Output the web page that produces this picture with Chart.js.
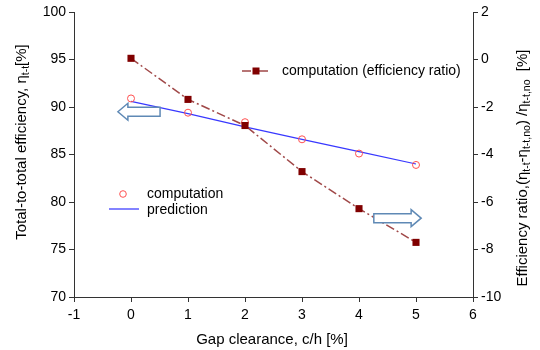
<!DOCTYPE html>
<html>
<head>
<meta charset="utf-8">
<script src="https://cdn.jsdelivr.net/npm/chart.js@4"></script>
<style>
  html, body { margin: 0; padding: 0; background: #fff; }
  #wrap { width: 540px; height: 350px; }
</style>
</head>
<body>
<div id="wrap"><canvas id="chart" width="540" height="350"></canvas></div>
<script>
// data
const gapClearance = [0, 1, 2, 3, 4, 5];
const effComputation = [90.9, 89.4, 88.4, 86.6, 85.1, 83.9];
const effPrediction = [90.6, 89.3, 87.9, 86.6, 85.3, 84.0];
const ratioComputation = [0.05, -1.68, -2.78, -4.72, -6.28, -7.7];

const xTicks = [-1, 0, 1, 2, 3, 4, 5, 6];
const leftTicks = [70, 75, 80, 85, 90, 95, 100];
const rightTicks = [-10, -8, -6, -4, -2, 0, 2];

const FONT = '"Liberation Sans", Arial, sans-serif';
const ctx = document.getElementById("chart");

function pts(xs, ys) {
    return xs.map((x, i) => ({x: x, y: ys[i]}));
}

// text with subscripts, parts = [[text, isSub], ...]
function drawRich(c, parts, cx, cy, rot, size) {
    c.save();
    c.translate(cx, cy);
    c.rotate(rot);
    c.textBaseline = 'middle';
    c.fillStyle = '#000';
    let w = 0;
    for (const p of parts) {
        c.font = (p[1] ? size * 0.7 : size) + 'px ' + FONT;
        w += c.measureText(p[0]).width;
    }
    let x = -w / 2;
    for (const p of parts) {
        c.font = (p[1] ? size * 0.7 : size) + 'px ' + FONT;
        c.textAlign = 'left';
        c.fillText(p[0], x, p[1] ? size * 0.3 : 0);
        x += c.measureText(p[0]).width;
    }
    c.restore();
}

function blockArrow(c, tipX, tailX, cy, bodyH, headH, headL) {
    const dir = tailX > tipX ? 1 : -1;
    const baseX = tipX + dir * headL;
    c.beginPath();
    c.moveTo(tipX, cy);
    c.lineTo(baseX, cy - headH / 2);
    c.lineTo(baseX, cy - bodyH / 2);
    c.lineTo(tailX, cy - bodyH / 2);
    c.lineTo(tailX, cy + bodyH / 2);
    c.lineTo(baseX, cy + bodyH / 2);
    c.lineTo(baseX, cy + headH / 2);
    c.closePath();
    c.fillStyle = '#fff';
    c.fill();
    c.strokeStyle = '#5f89b5';
    c.lineWidth = 1.5;
    c.stroke();
}

const decorPlugin = {
    id: 'decor',
    afterDraw(chart) {
        const c = chart.ctx;
        const sx = chart.scales.x, sy = chart.scales.y;

        // axis titles
        drawRich(c, [['Total-to-total efficiency, η', false], ['t-t', true], ['[%]', false]],
            22, 142, -Math.PI / 2, 15);
        drawRich(c, [['Efficiency ratio,(η', false], ['t-t', true], ['-η', false], ['t-t,no', true],
            [') /η', false], ['t-t,no', true], ['  [%]', false]],
            523, 168, -Math.PI / 2, 15);
        drawRich(c, [['Gap clearance, c/h [%]', false]], 272, 340, 0, 15);

        // arrows pointing to the axes
        blockArrow(c, sx.getPixelForValue(-0.23), sx.getPixelForValue(0.51),
            sy.getPixelForValue(89.5), 9, 17, 10);
        blockArrow(c, sx.getPixelForValue(5.09), sx.getPixelForValue(4.26),
            sy.getPixelForValue(78.3), 9, 17, 10);

        // legends
        c.save();
        c.font = '14px ' + FONT;
        c.textBaseline = 'middle';
        c.textAlign = 'left';

        c.strokeStyle = '#a04848';
        c.lineWidth = 1.5;
        c.setLineDash([9, 3, 2, 3]);
        c.beginPath(); c.moveTo(242, 71); c.lineTo(271, 71); c.stroke();
        c.setLineDash([]);
        c.fillStyle = '#800000';
        c.fillRect(252.5, 67.5, 7, 7);
        c.fillStyle = '#000';
        c.fillText('computation (efficiency ratio)', 282, 71);

        c.strokeStyle = '#ff5050';
        c.lineWidth = 1;
        c.beginPath(); c.arc(123, 194, 3.3, 0, Math.PI * 2); c.stroke();
        c.fillText('computation', 147, 194);

        c.strokeStyle = '#4040ff';
        c.lineWidth = 1.3;
        c.beginPath(); c.moveTo(109, 209); c.lineTo(139, 209); c.stroke();
        c.fillText('prediction', 147, 210);
        c.restore();
    }
};

const axisCommon = {
    grid: {drawOnChartArea: false, drawTicks: true, tickLength: 5, color: '#333'},
    border: {color: '#333', width: 1},
    ticks: {color: '#000', font: {family: FONT, size: 14}, padding: 3}
};

const config = {
    type: 'line',
    data: {
        datasets: [
            {
                label: 'computation',
                data: pts(gapClearance, effComputation),
                yAxisID: 'y',
                showLine: false,
                pointStyle: 'circle',
                pointRadius: 3.5,
                pointBorderWidth: 1,
                pointBorderColor: '#ff5050',
                pointBackgroundColor: 'rgba(255,255,255,0)',
                order: 1
            },
            {
                label: 'prediction',
                data: pts(gapClearance, effPrediction),
                yAxisID: 'y',
                borderColor: '#3838ff',
                borderWidth: 1.2,
                pointRadius: 0,
                tension: 0,
                order: 2
            },
            {
                label: 'computation (efficiency ratio)',
                data: pts(gapClearance, ratioComputation),
                yAxisID: 'y1',
                borderColor: '#a04848',
                borderWidth: 1.5,
                borderDash: [9, 3, 2, 3],
                pointStyle: 'rect',
                pointRadius: 5,
                pointBorderWidth: 0,
                pointBackgroundColor: '#800000',
                order: 0
            }
        ]
    },
    options: {
        responsive: false,
        animation: false,
        layout: {padding: {top: 12, left: 0, right: 0, bottom: 0}},
        plugins: {legend: {display: false}, tooltip: {enabled: false}},
        scales: {
            x: {
                ...axisCommon,
                type: 'linear',
                min: -1, max: 6,
                ticks: {...axisCommon.ticks, padding: 5},
                afterBuildTicks: s => { s.ticks = xTicks.map(v => ({value: v})); },
                afterFit: s => { s.height = 53; }
            },
            y: {
                ...axisCommon,
                position: 'left',
                min: 70, max: 100,
                afterBuildTicks: s => { s.ticks = leftTicks.map(v => ({value: v})); },
                afterFit: s => { s.width = 74; }
            },
            y1: {
                ...axisCommon,
                position: 'right',
                min: -10, max: 2,
                afterBuildTicks: s => { s.ticks = rightTicks.map(v => ({value: v})); },
                afterFit: s => { s.width = 67; }
            }
        }
    },
    plugins: [decorPlugin]
};

const effChart = new Chart(ctx, config);
</script>
</body>
</html>
